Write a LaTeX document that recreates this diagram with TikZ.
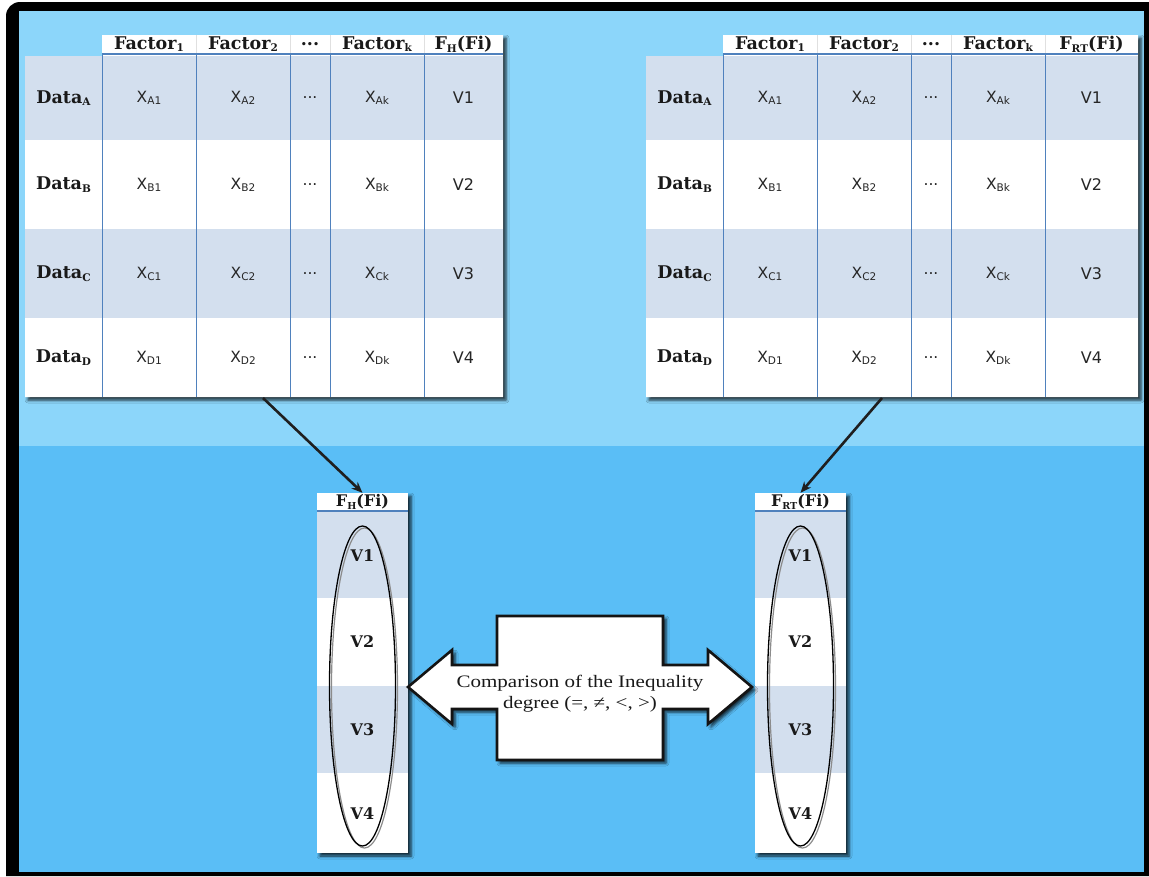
\documentclass[tikz,border=0pt]{standalone}
\usepackage{fontspec}
\usepackage{graphicx}
\setmainfont{DejaVu Serif}
\newfontfamily\cellfont{DejaVu Sans}
\newfontfamily\cmpfont{Liberation Serif}[FakeStretch=1.2]
\usetikzlibrary{arrows.meta,shadows.blur}

\definecolor{skytop}{HTML}{8CD6FA}
\definecolor{skybot}{HTML}{5ABEF6}
\definecolor{rowshade}{HTML}{D3DFEE}
\definecolor{colline}{HTML}{4F81BD}

% lowered, reduced index after a symbol
\newcommand\subidx[1]{\raisebox{-0.3ex}{\scalebox{0.6}{#1}}}
\newcommand\cellidx[1]{\raisebox{-0.25ex}{\scalebox{0.68}{#1}}}

\tikzset{
  tabshadow/.style={blur shadow={shadow xshift=3pt, shadow yshift=-3pt,
      shadow blur radius=3pt, shadow opacity=80}},
  hdr/.style={font=\fontsize{17.5}{19}\selectfont\bfseries, inner sep=0pt, text=black!90},
  rowlbl/.style={font=\fontsize{17.5}{19}\selectfont\bfseries, inner sep=0pt, text=black!90},
  cell/.style={font=\cellfont\fontsize{15.5}{17}\selectfont, inner sep=0pt, text=black!85},
  valcell/.style={font=\cellfont\fontsize{16}{18}\selectfont, inner sep=0pt, text=black!85},
  vlbl/.style={font=\fontsize{16}{18}\selectfont\bfseries, inner sep=0pt, text=black!90},
  colrule/.style={draw=colline, line width=0.8pt},
  hdrrule/.style={draw=colline, line width=2pt},
  hdrsep/.style={draw=black!12, line width=0.8pt},
  feed/.style={draw=black!88, line width=2.6pt, -{Stealth[length=11pt,width=9pt]}},
  cmp/.style={font=\cmpfont\fontsize{17.5}{21}\selectfont, align=center, inner sep=0pt, text=black!90}
}

% Table of factors: #1 name prefix, #2 left x, #3 width of last column, #4 last header
\newcommand\FactorTable[4]{%
\begin{scope}[shift={(#2,0)}]
  \pgfmathsetmacro\tabR{399+#3}
  \fill[white, tabshadow] (0,56) -- (77,56) -- (77,35) -- (\tabR,35) -- (\tabR,397) -- (0,397) -- cycle;
  \foreach \yt/\yb in {56/140,229/318} \fill[rowshade] (0,\yt) rectangle (\tabR,\yb);
  \foreach \xx in {171,265,305,399} \draw[hdrsep] (\xx,35) -- (\xx,53);
  \foreach \xx in {77,171,265,305,399} \draw[colrule] (\xx,54) -- (\xx,397);
  \draw[hdrrule] (77,54) -- (\tabR,54);
  \node[hdr] (#1-f1) at (124,44) {Factor\subidx{1}};
  \node[hdr] (#1-f2) at (218,44) {Factor\subidx{2}};
  \node[hdr] (#1-fd) at (285,44) {...};
  \node[hdr] (#1-fk) at (352,44) {Factor\subidx{k}};
  \node[hdr] (#1-fv) at ({(399+\tabR)/2},44) {#4};
  \foreach \rw/\vn/\ym in {A/1/98,B/2/184.5,C/3/273.5,D/4/357.5}{
    \node[rowlbl] (#1-\rw) at (38.5,\ym) {Data\subidx{\rw}};
    \node[cell] (#1-\rw-1) at (124,\ym) {X\cellidx{\rw1}};
    \node[cell] (#1-\rw-2) at (218,\ym) {X\cellidx{\rw2}};
    \node[cell] (#1-\rw-d) at (285,\ym) {...};
    \node[cell] (#1-\rw-k) at (352,\ym) {X\cellidx{\rw k}};
    \node[valcell] (#1-\rw-v) at ({(399+\tabR)/2},\ym) {V\vn};
  }
\end{scope}}

% Column of values with the grouping ring: #1 name prefix, #2 left x, #3 header
\newcommand\ValueColumn[3]{%
\begin{scope}[shift={(#2,0)}]
  \fill[white, tabshadow] (0,493) rectangle (91,853);
  \fill[rowshade] (0,512) rectangle (91,598);
  \fill[rowshade] (0,686) rectangle (91,773);
  \draw[hdrrule] (0,511) -- (91,511);
  \node[hdr, font=\fontsize{16}{18}\selectfont\bfseries, minimum width=91pt, minimum height=18pt]
     (#1-head) at (45.5,502) {#3};
  \foreach \vn/\ym in {1/556,2/642,3/730,4/814}
    \node[vlbl] (#1-v\vn) at (45.5,\ym) {V\vn};
  \draw[black!45, line width=1.2pt] (47.5,688) ellipse [x radius=33, y radius=160];
  \draw[black, line width=1.3pt] (45.5,686) ellipse [x radius=33, y radius=160];
\end{scope}}

\begin{document}
\begin{tikzpicture}[x=1pt,y=-1pt]
  \useasboundingbox (0,0) rectangle (1149,876);
  \fill[white] (0,0) rectangle (1149,876);
  % dark frame and the two-tone panel
  \fill[black] (1149,876) -- (6,876) [rounded corners=14pt] -- (6,2) [sharp corners] -- (1149,2) -- cycle;
  \fill[skytop] (19,11) rectangle (1144,446);
  \fill[skybot] (19,446) rectangle (1144,872);

  % the two factor tables
  \FactorTable{L}{25}{79}{F\subidx{H}(Fi)}
  \FactorTable{R}{646}{93}{F\subidx{RT}(Fi)}

  % extracted value columns
  \ValueColumn{LC}{317}{F\subidx{H}(Fi)}
  \ValueColumn{RC}{755}{F\subidx{RT}(Fi)}

  % connectors from the tables to the columns
  \coordinate (L-src) at (263,398);
  \coordinate (R-src) at (882,398);
  \draw[feed] (L-src) -- (LC-head.north);
  \draw[feed] (R-src) -- (RC-head.north);

  % double-headed comparison arrow
  \filldraw[fill=white, draw=black!92, line width=2.6pt, line join=miter, tabshadow]
    (408,687) -- (452,650) -- (452,665) -- (497,665) -- (497,616) -- (663,616)
    -- (663,665) -- (708,665) -- (708,650) -- (752,687) -- (708,724) -- (708,709)
    -- (663,709) -- (663,760) -- (497,760) -- (497,709) -- (452,709) -- (452,724) -- cycle;
  \node[cmp] (cmp) at (580,694) {Comparison of the Inequality\\degree (=, ≠, <, >)};
\end{tikzpicture}
\end{document}
